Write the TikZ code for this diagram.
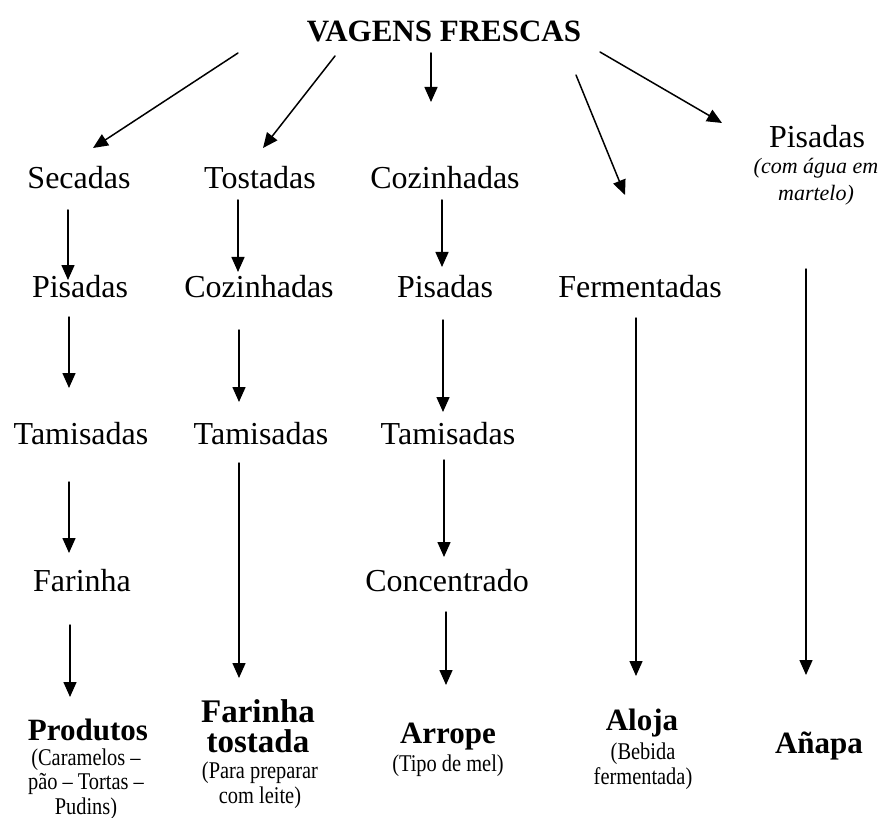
\documentclass[tikz,border=0pt]{standalone}
\usepackage{fontspec}
\setmainfont{Liberation Serif}
\newfontfamily\notefont[FakeStretch=0.85]{Liberation Serif}
\usetikzlibrary{arrows.meta}
\tikzset{every node/.style={inner sep=0pt,anchor=base}}
\tikzset{etapa/.style={font=\fontsize{32}{34}\selectfont},
  produto/.style={font=\bfseries\fontsize{31}{33}\selectfont},
  nota/.style={font=\notefont\fontsize{24}{24.5}\selectfont,align=center},
  seta/.style={->,line width=1.5pt}}

\begin{document}
\begin{tikzpicture}[line cap=round,line join=round,>={Triangle[length=15pt,width=13pt]},x=1pt,y=-1pt]
\useasboundingbox (0,0) rectangle (880,818);
\node[produto] (vagens) at (444,42) {VAGENS FRESCAS};
% primeira etapa
\node[etapa] (secadas) at (79,189) {Secadas};
\node[etapa] (tostadas) at (260,189) {Tostadas};
\node[etapa] (cozinhadasC) at (445,189) {Cozinhadas};
\node[etapa] (pisadasE) at (817,148) {Pisadas};
\node[font=\itshape\fontsize{22}{27}\selectfont,align=center] (pisadasEnota) at (816,201) {(com água em\\martelo)};
% segunda etapa
\node[etapa] (pisadasA) at (80,297) {Pisadas};
\node[etapa] (cozinhadasB) at (259,297) {Cozinhadas};
\node[etapa] (pisadasC) at (445,297) {Pisadas};
\node[etapa] (fermentadas) at (640,297) {Fermentadas};
% terceira etapa
\node[etapa] (tamisadasA) at (81,444) {Tamisadas};
\node[etapa] (tamisadasB) at (261,444) {Tamisadas};
\node[etapa] (tamisadasC) at (448,444) {Tamisadas};
\node[etapa] (farinhaA) at (82,591) {Farinha};
\node[etapa] (concentrado) at (447,591) {Concentrado};
% produtos finais
\node[produto] (produtos) at (88,740) {Produtos};
\node[nota] (produtosnota) at (86,814) {(Caramelos –\\pão – Tortas –\\Pudins)};
\node[produto,font=\bfseries\fontsize{33}{30}\selectfont,align=center] (farinhaB) at (258,752) {Farinha\\tostada};
\node[nota] (farinhaBnota) at (260,803) {(Para preparar\\com leite)};
\node[produto] (arrope) at (448,743) {Arrope};
\node[nota] (arropenota) at (448,771) {(Tipo de mel)};
\node[produto] (aloja) at (642,730) {Aloja};
\node[nota] (alojanota) at (643,784) {(Bebida\\fermentada)};
\node[produto] (anapa) at (819,753) {Añapa};
% setas a partir das vagens
\draw[seta] ([shift={(-206,11)}]vagens.base) -- ([shift={(14,-41)}]secadas.base);
\draw[seta] ([shift={(-109,14)}]vagens.base) -- ([shift={(3,-41)}]tostadas.base);
\draw[seta] ([shift={(-13,11)}]vagens.base) -- ([shift={(-14,-87)}]cozinhadasC.base);
\draw[seta] ([shift={(132,33)}]vagens.base) -- ([shift={(-15,-102)}]fermentadas.base);
\draw[seta] ([shift={(156,10)}]vagens.base) -- ([shift={(-95,-25)}]pisadasE.base);
% colunas
\draw[seta] ([shift={(-11,21)}]secadas.base) -- ([shift={(-12,-17)}]pisadasA.base);
\draw[seta] ([shift={(-11,20)}]pisadasA.base) -- ([shift={(-12,-56)}]tamisadasA.base);
\draw[seta] ([shift={(-12,38)}]tamisadasA.base) -- ([shift={(-13,-38)}]farinhaA.base);
\draw[seta] ([shift={(-12,34)}]farinhaA.base) -- ([shift={(-18,-43)}]produtos.base);
\draw[seta] ([shift={(-22,11)}]tostadas.base) -- ([shift={(-21,-25)}]cozinhadasB.base);
\draw[seta] ([shift={(-20,33)}]cozinhadasB.base) -- ([shift={(-22,-42)}]tamisadasB.base);
\draw[seta] ([shift={(-22,19)}]tamisadasB.base) -- ([shift={(-19,-74)}]farinhaB.base);
\draw[seta] ([shift={(-3,11)}]cozinhadasC.base) -- ([shift={(-3,-30)}]pisadasC.base);
\draw[seta] ([shift={(-2,23)}]pisadasC.base) -- ([shift={(-5,-32)}]tamisadasC.base);
\draw[seta] ([shift={(-4,16)}]tamisadasC.base) -- ([shift={(-3,-34)}]concentrado.base);
\draw[seta] ([shift={(-1,21)}]concentrado.base) -- ([shift={(-2,-58)}]arrope.base);
\draw[seta] ([shift={(-4,21)}]fermentadas.base) -- ([shift={(-6,-54)}]aloja.base);
\draw[seta] ([shift={(-11,121)}]pisadasE.base) -- ([shift={(-13,-78)}]anapa.base);
\end{tikzpicture}
\end{document}
